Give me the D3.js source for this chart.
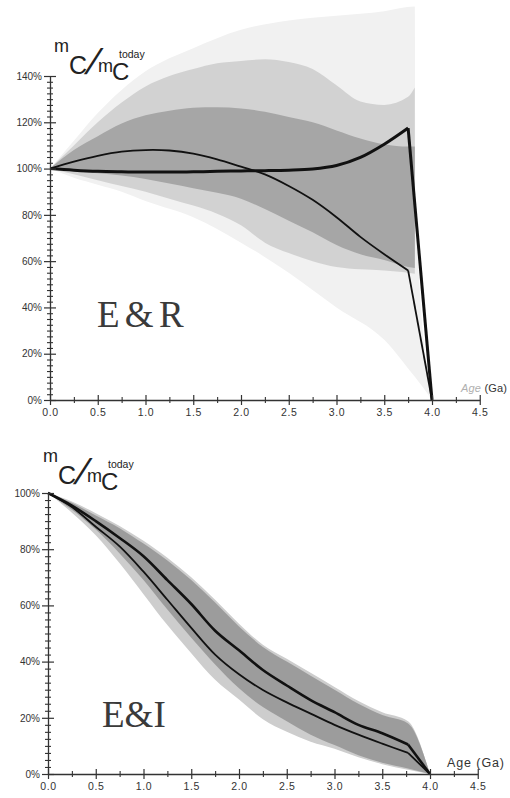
<!DOCTYPE html>
<html>
<head>
<meta charset="utf-8">
<script src="https://cdn.jsdelivr.net/npm/d3@7"></script>
<style>
  html, body { margin: 0; padding: 0; background: #fff; }
  svg { display: block; }
  .tick text { font-family: "Liberation Sans", Arial, sans-serif; fill: #333; }
</style>
</head>
<body>
<div id="chart"></div>
<script>
// ---------------- DATA ----------------
// Age axis ticks (Ga)
const ageTicks = [0, 0.5, 1.0, 1.5, 2.0, 2.5, 3.0, 3.5, 4.0, 4.5];
const ageMinor = [0.25, 0.75, 1.25, 1.75, 2.25, 2.75, 3.25, 3.75, 4.25];
const erPctTicks = [0, 20, 40, 60, 80, 100, 120, 140];
const eiPctTicks = [0, 20, 40, 60, 80, 100];

// Panel 1: E & R
const erLineAge = [0, 0.25, 0.5, 0.75, 1, 1.25, 1.5, 1.75, 2, 2.25, 2.5, 2.75, 3, 3.25, 3.5, 3.75, 4.0];
const erThin    = [100, 103, 105.5, 107.3, 108, 107.8, 106.5, 104, 100.8, 97.5, 92.5, 86.5, 79, 70.5, 63, 56, 0];
const erThick   = [100, 99.3, 98.8, 98.6, 98.5, 98.5, 98.6, 98.8, 99, 99.1, 99.3, 99.8, 101.3, 104.8, 110.5, 117.5, 0];

const erBandAge = [0, 0.25, 0.5, 0.75, 1, 1.25, 1.5, 1.75, 2, 2.25, 2.5, 2.75, 3, 3.25, 3.5, 3.75, 3.82];
const erDarkHi  = [100, 108, 114, 119.5, 123, 125, 126.3, 126.5, 126, 124.5, 122.3, 120, 116.5, 113, 110.5, 109.5, 109.5];
const erDarkLo  = [100, 99, 98, 97, 95.5, 93.5, 91.5, 89.5, 87, 82.5, 77.5, 72.5, 67, 63, 60.5, 57.5, 57];
const erLightHi = [100, 110, 120, 128.5, 135.5, 140, 143, 145.5, 146.5, 147.2, 146, 143, 136, 129, 127.5, 131, 135];
const erLightLo = [100, 97.5, 95, 92.5, 90, 87, 84, 80.5, 75.5, 68, 63.5, 60, 57.5, 56.5, 56, 55, 54.5];

const erPaleAge = [0, 0.25, 0.5, 0.75, 1, 1.5, 2, 2.5, 3, 3.5, 3.82, 3.83, 4.0];
const erPaleHi  = [100, 112, 124, 134, 142, 152, 160, 164, 166, 168, 170, 80, 0];
const erPaleLo  = [100, 96, 93, 90, 86, 79, 68, 55, 40, 26, 10, 9.5, 0];

// Panel 2: E & I
const eiAge     = [0, 0.25, 0.5, 0.75, 1, 1.25, 1.5, 1.75, 2, 2.25, 2.5, 2.75, 3, 3.25, 3.5, 3.77, 4.0];
const eiThick   = [100, 95.5, 90, 84, 77.5, 69, 60.5, 51, 44, 37, 31.5, 26.3, 22, 17.5, 14.5, 10.5, 0];
const eiThin    = [100, 95, 88, 81, 72, 62, 52, 42.5, 35.5, 29.9, 25.5, 21.5, 17.5, 14, 10.8, 7.5, 0];
const eiDarkHi  = [100, 96.5, 92, 87.5, 82, 76, 69, 61, 52.5, 45.2, 40, 35, 30, 25, 21, 18, 0];
const eiDarkLo  = [100, 94, 87, 78.5, 69, 58.5, 48.5, 39, 30.5, 23.8, 18.8, 14, 10.3, 6.7, 4, 2, 0];
const eiLightHi = [100, 97, 92.8, 88.3, 83, 77, 70, 62, 53.5, 46, 41, 36, 31, 26, 22, 18.8, 0];
const eiLightLo = [100, 93, 85, 75, 64, 53, 43, 33.5, 26.5, 19.5, 15, 11.5, 9, 6, 3.5, 1.5, 0];

// ---------------- CHART ----------------
const W = 510, H = 798;
const svg = d3.select("#chart").append("svg").attr("width", W).attr("height", H);

function zip(ages, a, b) { return ages.map((t, i) => ({ t, lo: a[i], hi: b[i] })); }
function pts(ages, v) { return ages.map((t, i) => ({ t, v: v[i] })); }

function drawPanel(cfg) {
  const { x, y, g } = cfg;
  const area = d3.area().x(d => x(d.t)).y0(d => y(d.lo)).y1(d => y(d.hi)).curve(d3.curveMonotoneX);
  cfg.bands.forEach(b => {
    g.append("path").datum(zip(b.age, b.lo, b.hi)).attr("d", area).attr("fill", b.color).attr("stroke", "none");
  });
  // lines: smooth until the kink, then straight drop
  const smooth = d3.line().x(d => x(d.t)).y(d => y(d.v)).curve(d3.curveCatmullRom.alpha(0.5));
  const straight = d3.line().x(d => x(d.t)).y(d => y(d.v));
  cfg.lines.forEach(l => {
    const p = pts(l.age, l.v);
    const n = p.length;
    g.append("path").datum(p.slice(0, n - 1)).attr("d", smooth)
      .attr("fill", "none").attr("stroke", "#111").attr("stroke-width", l.w);
    g.append("path").datum(p.slice(n - 2)).attr("d", straight)
      .attr("fill", "none").attr("stroke", "#111").attr("stroke-width", l.w);
  });

  // Y axis
  const yAx = g.append("g").attr("transform", `translate(${x(0)},0)`);
  yAx.call(d3.axisLeft(y).tickValues(cfg.yMinor).tickFormat("").tickSize(3))
     .call(s => s.select(".domain").remove());
  yAx.selectAll(".tick line").attr("x1", 3).attr("stroke", "#333").attr("stroke-width", 1.1);
  const yMaj = g.append("g").attr("transform", `translate(${x(0)},0)`);
  yMaj.call(d3.axisLeft(y).tickValues(cfg.yTicks).tickFormat(d => d + "%").tickSize(6).tickPadding(2).tickSizeOuter(0));
  yMaj.select(".domain").attr("stroke", "#333").attr("stroke-width", 1.3);
  yMaj.selectAll(".tick line").attr("x1", 6).attr("stroke", "#333").attr("stroke-width", 1.2);
  yMaj.selectAll(".tick text").attr("font-size", 10).attr("fill", "#444");

  // X axis
  const xAx = g.append("g").attr("transform", `translate(0,${y(0)})`);
  xAx.call(d3.axisBottom(x).tickValues(ageMinor).tickFormat("").tickSize(3))
     .call(s => s.select(".domain").remove());
  xAx.selectAll(".tick line").attr("y1", -3).attr("stroke", "#333").attr("stroke-width", 1.1);
  const xMaj = g.append("g").attr("transform", `translate(0,${y(0)})`);
  xMaj.call(d3.axisBottom(x).tickValues(ageTicks).tickFormat(d3.format(".1f")).tickSize(5).tickPadding(4).tickSizeOuter(0));
  xMaj.select(".domain").attr("stroke", "#333").attr("stroke-width", 1.3);
  xMaj.selectAll(".tick line").attr("y1", -5).attr("stroke", "#333").attr("stroke-width", 1.2);
  xMaj.selectAll(".tick text").attr("font-size", 10.5).attr("letter-spacing", "0.6px").attr("fill", "#333");
}

function minorTicks(max) { const a = []; for (let v = 2.5; v < max; v += 2.5) if (v % 20 !== 0) a.push(v); return a; }

// Panel 1
const x1 = d3.scaleLinear().domain([0, 4.5]).range([50, 479.75]);
const y1 = d3.scaleLinear().domain([0, 140]).range([400, 76]);
const g1 = svg.append("g");
drawPanel({
  x: x1, y: y1, g: g1, yTicks: erPctTicks, yMinor: minorTicks(140),
  bands: [
    { age: erPaleAge, lo: erPaleLo, hi: erPaleHi, color: "#f1f1f1" },
    { age: erBandAge, lo: erLightLo, hi: erLightHi, color: "#d2d2d2" },
    { age: erBandAge, lo: erDarkLo, hi: erDarkHi, color: "#a6a6a6" }
  ],
  lines: [
    { age: erLineAge, v: erThin, w: 1.8 },
    { age: erLineAge, v: erThick, w: 3 }
  ]
});

// Panel 2
const x2 = d3.scaleLinear().domain([0, 4.5]).range([48, 477.75]);
const y2 = d3.scaleLinear().domain([0, 100]).range([774, 493]);
const g2 = svg.append("g");
drawPanel({
  x: x2, y: y2, g: g2, yTicks: eiPctTicks, yMinor: minorTicks(100),
  bands: [
    { age: eiAge, lo: eiLightLo, hi: eiLightHi, color: "#cdcdcd" },
    { age: eiAge, lo: eiDarkLo, hi: eiDarkHi, color: "#9c9c9c" }
  ],
  lines: [
    { age: eiAge, v: eiThin, w: 1.8 },
    { age: eiAge, v: eiThick, w: 2.6 }
  ]
});

// Y axis titles: m_C / m_C^today
function yTitle(dx, dy) {
  const t = svg.append("g").attr("transform", `translate(${dx},${dy})`)
    .attr("font-family", "'Liberation Sans', Arial, sans-serif").attr("fill", "#222");
  t.append("text").attr("x", 54).attr("y", 52).attr("font-size", 18).text("m");
  t.append("text").attr("x", 69).attr("y", 74).attr("font-size", 25).text("C");
  t.append("g").attr("transform", "translate(84,74) skewX(-20)")
    .append("text").attr("x", 0).attr("y", 0).attr("font-size", 36).text("/");
  t.append("text").attr("x", 98).attr("y", 72).attr("font-size", 18).text("m");
  t.append("text").attr("x", 119).attr("y", 58).attr("font-size", 10.5).text("today");
  t.append("text").attr("x", 112).attr("y", 80).attr("font-size", 24).text("C");
}
yTitle(0, 0);
yTitle(-11, 410);

// Panel labels
svg.append("text").attr("x", 97).attr("y", 327).attr("font-family", "'Liberation Serif', 'Times New Roman', serif")
  .attr("font-size", 37).attr("word-spacing", "-4px").attr("fill", "#3a3a3a").text("E & R");
svg.append("text").attr("x", 102).attr("y", 727).attr("font-family", "'Liberation Serif', 'Times New Roman', serif")
  .attr("font-size", 37).attr("fill", "#3a3a3a").text("E&I");

// X axis titles
const at1 = svg.append("text").attr("x", 461).attr("y", 392).attr("font-family", "'Liberation Sans', Arial, sans-serif")
  .attr("font-size", 11).attr("letter-spacing", "0.2px");
at1.append("tspan").attr("fill", "#b0b0b0").attr("font-style", "italic").text("Age ");
at1.append("tspan").attr("fill", "#333").text("(Ga)");
svg.append("text").attr("x", 447).attr("y", 767).attr("font-family", "'Liberation Sans', Arial, sans-serif")
  .attr("font-size", 12.5).attr("letter-spacing", "0.9px").attr("fill", "#333").text("Age (Ga)");
</script>
</body>
</html>
